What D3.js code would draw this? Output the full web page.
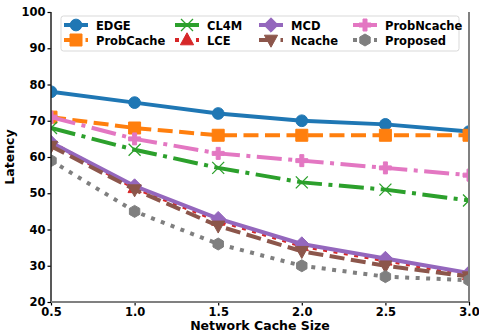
<!DOCTYPE html>
<html>
<head>
<meta charset="utf-8">
<script src="https://cdn.jsdelivr.net/npm/d3@7"></script>
<style>
  body { margin: 0; background: #fff; }
  text { font-family: "DejaVu Sans", sans-serif; font-weight: bold; }
</style>
</head>
<body>
<div id="chart"></div>
<script>
// data
var cacheSizes = [0.5, 1.0, 1.5, 2.0, 2.5, 3.0];
var seriesNames = ["EDGE", "ProbCache", "CL4M", "LCE", "MCD", "Ncache", "ProbNcache", "Proposed"];
var edge = [78, 75, 72, 70, 69, 67];
var probCache = [71, 68, 66, 66, 66, 66];
var cl4m = [68, 62, 57, 53, 51, 48];
var lce = [64, 51.5, 42.5, 35.5, 31.5, 27.5];
var mcd = [64, 52, 43, 36, 32, 28];
var ncache = [63, 51, 41, 34, 30, 27];
var probNcache = [71, 65, 61, 59, 57, 55];
var proposed = [59, 45, 36, 30, 27, 26];
var xTicks = [0.5, 1.0, 1.5, 2.0, 2.5, 3.0];
var yTicks = [20, 30, 40, 50, 60, 70, 80, 90, 100];

var values = [edge, probCache, cl4m, lce, mcd, ncache, probNcache, proposed];
var colors = ["#1f77b4", "#ff7f0e", "#2ca02c", "#d62728", "#9467bd", "#8c564b", "#e377c2", "#7f7f7f"];
var dashes = ["none", "15,6.5", "25,6.5,4,6.5", "4,6.5", "none", "15,6.5", "25,6.5,4,6.5", "4,6.5"];
var markers = ["circle", "square", "x", "triangle", "diamond", "tridown", "plus", "hexagon"];

var margin = {top: 12, right: 10, bottom: 33, left: 51},
    width = 469 - margin.left,
    height = 302 - margin.top;

var svg = d3.select("#chart")
    .append("svg")
    .attr("width", 479)
    .attr("height", 335)
    .append("g")
    .attr("transform", "translate(" + margin.left + "," + margin.top + ")");

var x = d3.scaleLinear().domain([0.5, 3.0]).range([0, width]);
var y = d3.scaleLinear().domain([20, 100]).range([height, 0]);

svg.append("clipPath").attr("id", "clip")
    .append("rect").attr("width", width).attr("height", height);

function markerPath(type, s) {
    switch (type) {
        case "circle": return d3.symbol(d3.symbolCircle, s * s * 0.75)();
        case "square": return "M" + (-s / 2) + "," + (-s / 2) + "h" + s + "v" + s + "h" + (-s) + "Z";
        case "triangle": return "M0," + (-s * 0.6) + "L" + (s * 0.55) + "," + (s * 0.4) + "L" + (-s * 0.55) + "," + (s * 0.4) + "Z";
        case "tridown": return "M0," + (s * 0.6) + "L" + (s * 0.55) + "," + (-s * 0.4) + "L" + (-s * 0.55) + "," + (-s * 0.4) + "Z";
        case "diamond": return "M0," + (-s * 0.6) + "L" + (s * 0.6) + ",0L0," + (s * 0.6) + "L" + (-s * 0.6) + ",0Z";
        case "x": var h = s / 2; return "M" + (-h) + "," + (-h) + "L" + h + "," + h + "M" + (-h) + "," + h + "L" + h + "," + (-h);
        case "plus": var a = s / 2, b = s / 6;
            return "M" + (-b) + "," + (-a) + "H" + b + "V" + (-b) + "H" + a + "V" + b + "H" + b + "V" + a + "H" + (-b) + "V" + b + "H" + (-a) + "V" + (-b) + "H" + (-b) + "Z";
        case "hexagon": var pts = d3.range(6).map(function (i) {
                var t = Math.PI / 6 + i * Math.PI / 3;
                return [Math.cos(t) * s / 2, Math.sin(t) * s / 2];
            });
            return "M" + pts.join("L") + "Z";
    }
}

function drawMarker(g, type, color, s) {
    var p = g.append("path").attr("d", markerPath(type, s));
    if (type == "x") p.attr("fill", "none").attr("stroke", color).attr("stroke-width", 1.3);
    else p.attr("fill", color).attr("stroke", color).attr("stroke-width", 1);
}

// Add lines
var line = d3.line()
    .x(function (d, i) { return x(cacheSizes[i]); })
    .y(function (d) { return y(d); });

var plot = svg.append("g").attr("clip-path", "url(#clip)");

values.forEach(function (vals, k) {
    plot.append("path")
        .datum(vals)
        .attr("d", line)
        .attr("fill", "none")
        .attr("stroke", colors[k])
        .attr("stroke-width", 4)
        .attr("stroke-dasharray", dashes[k]);
    vals.forEach(function (v, i) {
        var g = plot.append("g")
            .attr("transform", "translate(" + x(cacheSizes[i]) + "," + y(v) + ")");
        drawMarker(g, markers[k], colors[k], 12);
    });
});

// Add X axis
var xAxis = svg.append("g")
    .attr("transform", "translate(0," + height + ")")
    .call(d3.axisBottom(x).tickValues(xTicks).tickFormat(d3.format(".1f")).tickSize(3.5).tickPadding(2));
// Add Y axis
var yAxis = svg.append("g")
    .call(d3.axisLeft(y).tickValues(yTicks).tickSize(3.5).tickPadding(2));

[xAxis, yAxis].forEach(function (a) {
    a.selectAll("text").attr("font-size", 11.5).attr("fill", "#000")
        .style("font-family", "DejaVu Sans").style("font-weight", "bold");
    a.selectAll(".tick line").attr("stroke", "#000").attr("stroke-width", 1.2);
    a.select(".domain").remove();
});

// spines
svg.append("line").attr("x1", 0).attr("x2", 0).attr("y1", 0).attr("y2", height)
    .attr("stroke", "#222").attr("stroke-width", 1.5);
svg.append("line").attr("x1", 0).attr("x2", width).attr("y1", height).attr("y2", height)
    .attr("stroke", "#808080").attr("stroke-width", 2);
svg.append("line").attr("x1", width).attr("x2", width).attr("y1", 0).attr("y2", height)
    .attr("stroke", "#808080").attr("stroke-width", 2);

// axis labels
svg.append("text")
    .attr("x", width / 2).attr("y", height + 28)
    .attr("text-anchor", "middle").attr("font-size", 12.5)
    .text("Network Cache Size");
svg.append("text")
    .attr("transform", "translate(-37," + (height / 2) + ") rotate(-90)")
    .attr("text-anchor", "middle").attr("font-size", 12.5)
    .text("Latency");

// legend
var legend = svg.append("g").attr("transform", "translate(10,4)");
legend.append("rect")
    .attr("width", 398).attr("height", 35).attr("rx", 2.5)
    .attr("fill", "white").attr("fill-opacity", 0.8)
    .attr("stroke", "#d9d9d9").attr("stroke-width", 1);

var colX = [3, 114, 198, 292];
seriesNames.forEach(function (name, k) {
    var col = Math.floor(k / 2), row = k % 2;
    var g = legend.append("g")
        .attr("transform", "translate(" + colX[col] + "," + (9 + row * 15) + ")");
    g.append("line")
        .attr("x1", 0).attr("x2", 24).attr("y1", 0).attr("y2", 0)
        .attr("stroke", colors[k]).attr("stroke-width", 4)
        .attr("stroke-dasharray", dashes[k]);
    var m = g.append("g").attr("transform", "translate(12,0)");
    drawMarker(m, markers[k], colors[k], 12);
    g.append("text")
        .attr("x", 32).attr("y", 4.5)
        .attr("font-size", 11.5)
        .text(name);
});
</script>
</body>
</html>
